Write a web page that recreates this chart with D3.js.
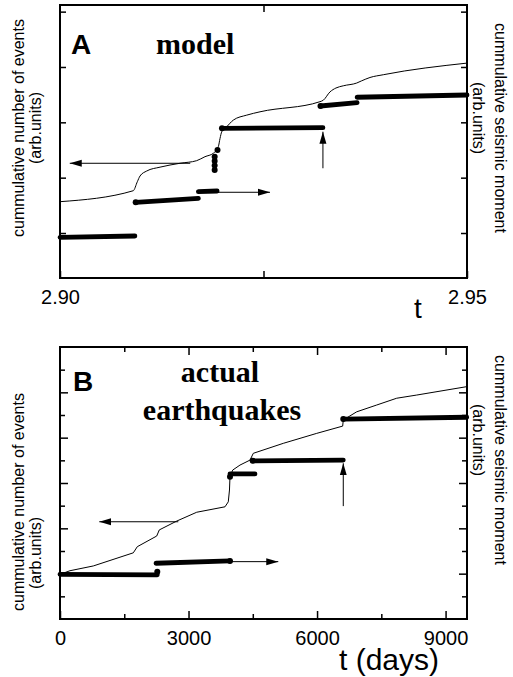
<!DOCTYPE html>
<html><head><meta charset="utf-8">
<script src="https://cdn.jsdelivr.net/npm/d3@7"></script>
<style>body{margin:0;background:#fff}</style>
</head><body><svg id="c" width="513" height="677"></svg>
<script>
// ---------- Panel A (model) data ----------
const aEventT = [2.9000,2.9090,2.9095,2.90983,2.91065,2.91229,2.91474,2.91679,2.91781,2.91883,2.91945,2.91966,2.91987,2.92048,2.92129,2.92294,2.92457,2.93194,2.93235,2.93317,2.9339,2.9348,2.93645,2.93706,2.93808,2.93972,2.9500];
const aEventV = [0.566,0.764,0.927,1.03,1.12,1.19,1.26,1.307,1.379,1.44,1.56,1.71,1.83,1.92,2.04,2.13,2.19,2.373,2.40,2.55,2.62,2.66,2.71,2.75,2.81,2.86,3.07];
const aStepT0 = [2.9000,2.9093,2.9170,2.9199,2.9320,2.9365];
const aStepT1 = [2.9092,2.9170,2.9193,2.9323,2.9365,2.9500];
const aStepV0 = [-0.078,0.555,0.746,1.892,2.295,2.453];
const aStepV1 = [-0.054,0.627,0.759,1.903,2.355,2.494];
const aDotT = [2.9190,2.9190,2.9190,2.9190,2.91935,2.9093,2.9199,2.9320];
const aDotV = [1.14,1.22,1.30,1.38,1.50,0.555,1.892,2.295];
const aXTicks = [2.90,2.925,2.95];
const aXLabels = ["2.90","","2.95"];
const aYTicks = [0,1,2,3,4];
// arrows
const aArrowX0 = [2.9160,2.9193,2.9323];
const aArrowX1 = [2.9012,2.9258,2.9323];
const aArrowV0 = [1.26,0.736,1.17];
const aArrowV1 = [1.26,0.736,1.83];

// ---------- Panel B (actual earthquakes) data ----------
const bEventT = [0,233,777,1711,1804,2257,2318,2724,3191,3851,3928,3956,3968,4031,4201,4435,4512,5212,5992,6598,6612,6925,7392,7859,8326,9493];
const bEventV = [1.97,2.13,2.34,2.92,3.19,3.66,3.93,4.32,4.71,4.95,5.17,5.69,6.28,6.57,6.79,7.01,7.31,7.75,8.19,8.51,8.78,9.14,9.44,9.74,9.88,10.25];
const bStepT0 = [0,2241,3968,4498,6612];
const bStepT1 = [2271,3968,4551,6612,9493];
const bStepV0 = [1.97,2.46,6.40,6.98,8.82];
const bStepV1 = [1.95,2.56,6.40,7.01,8.90];
const bDotT = [2271,3968,3968,4498,6612];
const bDotV = [2.08,2.56,6.28,6.98,8.82];
const bXMajor = [0,3000,6000,9000];
const bXMinor = [1500,4500,7500];
const bYMajor = [2,4,6,8,10];
const bYMinor = [1,3,5,7,9,11];
const bArrowX0 = [2761,3968,6612];
const bArrowX1 = [917,5095,6612];
const bArrowV0 = [4.29,2.53,4.98];
const bArrowV1 = [4.29,2.53,6.87];

const SANS = "'Liberation Sans', Arial, sans-serif";
const SERIF = "'Liberation Serif', 'Times New Roman', serif";

const svg = d3.select("#c");
svg.append("rect").attr("width",513).attr("height",677).attr("fill","#fff");
svg.append("defs").append("marker")
  .attr("id","ah").attr("markerUnits","userSpaceOnUse")
  .attr("markerWidth",14).attr("markerHeight",10)
  .attr("viewBox","0 -5 14 10").attr("refX",12).attr("refY",0)
  .attr("orient","auto")
  .append("path").attr("d","M0,-3.5L12,0L0,3.5Z").attr("fill","#000");

function styleAxis(g){
  g.select(".domain").remove();
  g.selectAll(".tick line").attr("stroke","#000").attr("stroke-width",1.5);
  g.selectAll("text").attr("font-family",SANS).attr("font-size",20).attr("fill","#000");
}

function drawPanel(o){
  const {x,y,top,bottom,left,right} = o;
  const g = svg.append("g");
  g.append("path")
    .attr("d", d3.line().x(d=>x(d[0])).y(d=>y(d[1])).curve(o.curve)(o.evT.map((t,i)=>[t,o.evV[i]])))
    .attr("fill","none").attr("stroke","#000").attr("stroke-width",1);
  g.selectAll(".seg").data(o.sT0).join("line")
    .attr("x1",(d,i)=>x(o.sT0[i])).attr("x2",(d,i)=>x(o.sT1[i]))
    .attr("y1",(d,i)=>y(o.sV0[i])).attr("y2",(d,i)=>y(o.sV1[i]))
    .attr("stroke","#000").attr("stroke-width",4.8).attr("stroke-linecap","round");
  g.selectAll(".dot").data(o.dT).join("circle")
    .attr("cx",(d,i)=>x(o.dT[i])).attr("cy",(d,i)=>y(o.dV[i])).attr("r",3).attr("fill","#000");
  g.selectAll(".arr").data(o.arX0).join("line")
    .attr("x1",(d,i)=>x(o.arX0[i])).attr("x2",(d,i)=>x(o.arX1[i]))
    .attr("y1",(d,i)=>y(o.arV0[i])).attr("y2",(d,i)=>y(o.arV1[i]))
    .attr("stroke","#000").attr("stroke-width",1).attr("marker-end","url(#ah)");
  g.append("rect").attr("x",left).attr("y",top).attr("width",right-left).attr("height",bottom-top)
    .attr("fill","none").attr("stroke","#000").attr("stroke-width",2);
}

// ---------- Panel A ----------
const xA = d3.scaleLinear().domain([2.90,2.95]).range([60,467]);
const yA = d3.scaleLinear().domain([-0.813,4.12]).range([278,5]);
drawPanel({x:xA,y:yA,top:5,bottom:278,left:60,right:467,curve:d3.curveMonotoneX,
  evT:aEventT,evV:aEventV,sT0:aStepT0,sT1:aStepT1,sV0:aStepV0,sV1:aStepV1,dT:aDotT,dV:aDotV,
  arX0:aArrowX0,arX1:aArrowX1,arV0:aArrowV0,arV1:aArrowV1});
svg.append("g").attr("transform","translate(0,278)")
  .call(d3.axisBottom(xA).tickValues(aXTicks).tickFormat((d,i)=>aXLabels[i]).tickSize(-7).tickSizeOuter(0).tickPadding(12))
  .call(styleAxis);
svg.append("g").attr("transform","translate(0,5)")
  .call(d3.axisTop(xA).tickValues([aXTicks[1]]).tickFormat("").tickSize(-7).tickSizeOuter(0)).call(styleAxis);
svg.append("g").attr("transform","translate(60,0)")
  .call(d3.axisLeft(yA).tickValues(aYTicks).tickFormat("").tickSize(-6).tickSizeOuter(0)).call(styleAxis);
svg.append("g").attr("transform","translate(467,0)")
  .call(d3.axisRight(yA).tickValues(aYTicks).tickFormat("").tickSize(-6).tickSizeOuter(0)).call(styleAxis);

// ---------- Panel B ----------
const xB = d3.scaleLinear().domain([0,9500]).range([60,467]);
const yB = d3.scaleLinear().domain([0,12]).range([619,347]);
drawPanel({x:xB,y:yB,top:347,bottom:619,left:60,right:467,curve:d3.curveLinear,
  evT:bEventT,evV:bEventV,sT0:bStepT0,sT1:bStepT1,sV0:bStepV0,sV1:bStepV1,dT:bDotT,dV:bDotV,
  arX0:bArrowX0,arX1:bArrowX1,arV0:bArrowV0,arV1:bArrowV1});
svg.append("g").attr("transform","translate(0,619)")
  .call(d3.axisBottom(xB).tickValues(bXMajor).tickFormat(d3.format("d")).tickSize(-8).tickSizeOuter(0).tickPadding(12))
  .call(styleAxis);
svg.append("g").attr("transform","translate(0,619)")
  .call(d3.axisBottom(xB).tickValues(bXMinor).tickFormat("").tickSize(-5).tickSizeOuter(0)).call(styleAxis);
svg.append("g").attr("transform","translate(0,347)")
  .call(d3.axisTop(xB).tickValues(bXMajor.slice(1)).tickFormat("").tickSize(-8).tickSizeOuter(0)).call(styleAxis);
svg.append("g").attr("transform","translate(0,347)")
  .call(d3.axisTop(xB).tickValues(bXMinor).tickFormat("").tickSize(-5).tickSizeOuter(0)).call(styleAxis);
[[60,d3.axisLeft],[467,d3.axisRight]].forEach(([px,ax])=>{
  svg.append("g").attr("transform",`translate(${px},0)`)
    .call(ax(yB).tickValues(bYMajor).tickFormat("").tickSize(-8).tickSizeOuter(0)).call(styleAxis);
  svg.append("g").attr("transform",`translate(${px},0)`)
    .call(ax(yB).tickValues(bYMinor).tickFormat("").tickSize(-5).tickSizeOuter(0)).call(styleAxis);
});

// ---------- Text ----------
function txt(x,y,s,opt){
  const t = svg.append("text").attr("x",x).attr("y",y).text(s)
    .attr("font-family",opt.serif?SERIF:SANS).attr("font-size",opt.size)
    .attr("font-weight",opt.bold?"bold":"normal").attr("text-anchor",opt.anchor||"start").attr("fill","#000");
  if(opt.rot) t.attr("transform",`rotate(${opt.rot},${x},${y})`);
  return t;
}
txt(71,54,"A",{size:28,bold:true});
txt(156,54,"model",{size:30,bold:true,serif:true});
txt(73,391,"B",{size:28,bold:true});
txt(220,382,"actual",{size:30,bold:true,serif:true,anchor:"middle"});
txt(222,420,"earthquakes",{size:30,bold:true,serif:true,anchor:"middle"});
txt(418,318,"t",{size:28,anchor:"middle"});
txt(389,670,"t (days)",{size:30,anchor:"middle"});
// side titles
txt(24,128,"cummulative number of events",{size:16,anchor:"middle",rot:-90});
txt(41,128,"(arb.units)",{size:16,anchor:"middle",rot:-90});
txt(495,128,"cummulative seismic moment",{size:16,anchor:"middle",rot:90});
txt(473,118,"(arb.units)",{size:16,anchor:"middle",rot:90});
txt(24,502,"cummulative number of events",{size:16,anchor:"middle",rot:-90});
txt(41,553,"(arb.units)",{size:16,anchor:"middle",rot:-90});
txt(495,460,"cummulative seismic moment",{size:16,anchor:"middle",rot:90});
txt(473,440,"(arb.units)",{size:16,anchor:"middle",rot:90});
</script>
</body></html>
